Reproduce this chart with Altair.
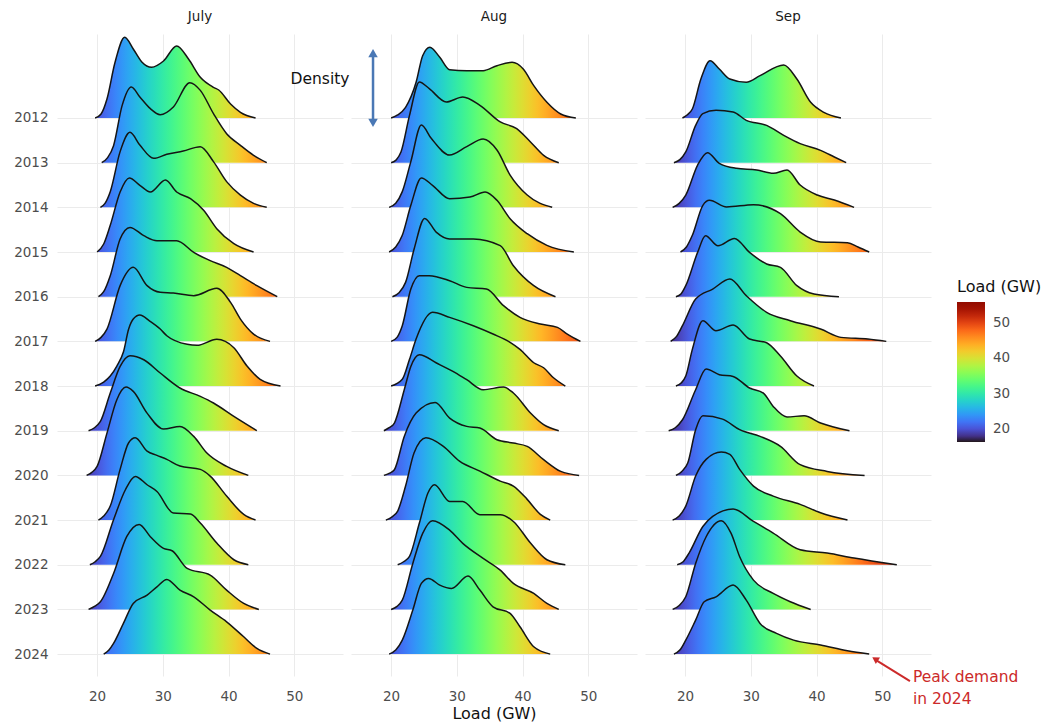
import altair as alt
import pandas as pd

# ---------------- data ----------------
YEARS = list(range(2012, 2025))
MONTHS = ["July", "Aug", "Sep"]
X_TICKS = [20, 30, 40, 50]
LEGEND_TICKS = [20, 30, 40, 50]
LOAD_RANGE = [16.3, 56.0]          # colour scale range (GW)

# (load GW, density height) pairs, density in arbitrary units
jul_2012 = [(19.7,0),(20.6,4),(21.5,19),(22.7,55),(24.2,80.7),(25.5,69),(26.8,56),(28.3,50.7),(30.1,57),(32.1,72),(33.9,59),(35.7,40.7),(37.7,30.7),(38.5,28),(40.3,14),(41.8,5.7),(44.1,0)]
jul_2013 = [(20.7,0),(21.6,5),(22.5,17),(23.8,57),(25.2,75.7),(26.5,65.7),(28.1,54),(29.6,48),(31.6,55.7),(34.1,80),(35.7,72.3),(37.7,49),(39.7,29),(41.8,17.3),(43.8,7.3),(45.8,0)]
jul_2014 = [(20.5,0),(21.2,4),(22.0,15.7),(23.5,55.7),(25.0,75),(26.5,62.3),(28.6,49),(30.6,53),(33.1,56.3),(35.7,60.7),(37.7,45.7),(39.7,25.7),(41.8,12.3),(43.8,4),(45.8,0)]
jul_2015 = [(20.0,0),(21.0,8),(22.0,26.7),(23.5,60),(24.9,74),(26.5,66.7),(28.1,60),(30.4,72),(32.1,60),(34.2,53.3),(36.2,41.7),(38.2,23.3),(40.8,8.3),(43.8,0)]
jul_2016 = [(20.2,0),(21.0,5),(22.0,21),(23.5,57.7),(25.0,69.3),(27.1,61),(29.1,56),(32.1,56),(34.7,44.3),(37.2,36),(39.7,29.3),(41.8,21),(44.3,11),(47.4,0)]
jul_2017 = [(19.7,0),(20.6,4),(21.5,12.3),(23.5,55.7),(25.5,74),(27.6,55.7),(29.6,49),(31.6,48.3),(34.7,45.7),(38.2,53),(40.3,39),(41.8,22.3),(43.8,7.3),(46.3,0)]
jul_2018 = [(19.7,0),(21.0,4),(22.0,10),(23.0,20),(24.0,34),(24.8,57),(25.5,67),(26.5,71),(28.0,65),(29.6,57),(30.6,50.3),(33.7,41.7),(35.2,40.7),(38.2,46.7),(40.8,38.3),(42.8,20),(44.8,6.7),(47.9,0)]
jul_2019 = [(18.7,0),(19.6,3),(20.5,9.3),(22.0,37.7),(23.5,64.3),(25.0,75),(27.1,71),(29.6,57.7),(32.6,42.7),(35.7,34.3),(37.7,27.7),(40.8,14.3),(44.3,0)]
jul_2020 = [(18.4,0),(19.2,3),(20.0,9),(21.5,42.3),(23.0,75.7),(24.4,88.3),(25.5,84),(27.6,62.3),(30.1,46.3),(32.6,49),(34.7,39),(36.7,22.3),(39.7,9),(43.0,0)]
jul_2021 = [(20.2,0),(21.0,4),(22.0,14),(23.5,50.7),(24.8,77.3),(25.8,82.3),(27.6,69),(29.1,64.7),(30.6,60.7),(32.6,54),(35.7,50.7),(37.2,44),(39.7,24),(42.3,5.7),(44.1,0)]
jul_2022 = [(18.9,0),(19.7,3),(20.5,8.3),(22.5,45),(24.3,75),(25.8,88.3),(27.6,80),(29.1,73.3),(31.6,51.7),(34.2,50.7),(35.7,41.7),(38.2,21.7),(40.8,5),(43.0,0)]
jul_2023 = [(18.7,0),(19.6,3),(20.5,7.7),(22.5,36),(24.5,72.7),(26.4,85),(28.1,72.7),(30.1,61),(31.4,58.7),(33.7,41),(37.2,34.3),(39.7,19.3),(42.3,6),(44.6,0)]
jul_2024 = [(21.0,0),(21.8,4),(22.5,10.7),(24.0,30.7),(25.5,50.7),(27.6,59),(29.1,67.3),(30.6,74.7),(32.6,64),(34.7,57.3),(37.2,44),(39.7,32.3),(42.3,17.3),(44.3,5.7),(46.3,0)]

aug_2012 = [(20.0,0),(21.0,3),(22.2,10.7),(23.8,35.7),(24.8,62.3),(25.9,70.7),(27.4,60.7),(28.9,48.3),(31.5,47.3),(34.0,47.3),(36.1,52.3),(38.4,55.7),(40.1,49),(41.7,32.3),(43.7,15.7),(45.8,4),(48.1,0)]
aug_2013 = [(20.0,0),(20.8,3),(21.5,10.7),(22.8,47.3),(24.3,80.7),(25.8,74),(28.4,60.7),(30.9,65.7),(33.5,57.3),(36.6,40.7),(39.1,34),(41.2,20.7),(43.2,7.3),(45.5,0)]
aug_2014 = [(19.7,0),(20.7,4),(21.7,15.7),(23.0,45.7),(24.6,82.3),(26.1,69),(28.9,52.3),(31.5,60.7),(34.0,68.3),(36.1,57.3),(38.1,32.3),(40.7,12.3),(44.5,0)]
aug_2015 = [(19.7,0),(20.7,5),(21.7,16.7),(23.0,46.7),(24.6,74),(26.3,66.7),(28.9,53.3),(32.0,55),(34.3,60),(36.1,51.7),(38.1,33.3),(40.7,18.3),(43.7,6.7),(47.8,0)]
aug_2016 = [(20.2,0),(21.2,4),(22.2,14.3),(23.5,47.7),(25.1,78.3),(26.9,64.3),(28.9,57.7),(32.5,57.7),(36.6,51),(38.6,31),(41.7,11),(45.0,0)]
aug_2017 = [(20.0,0),(20.9,4),(21.7,15.7),(23.0,52.3),(24.3,65.7),(25.8,65.7),(28.9,60.7),(31.5,54),(34.5,52.3),(37.1,35.7),(39.6,24),(42.7,17.3),(45.3,14),(46.8,7.3),(48.8,0)]
aug_2018 = [(20.0,0),(21.7,6.7),(22.8,26.7),(23.8,47),(26.3,73.7),(28.9,68.7),(32.5,60.3),(35.5,52),(38.1,43.7),(39.6,36.7),(41.7,23.3),(43.2,18.3),(44.7,8.3),(46.5,0)]
aug_2019 = [(18.9,0),(19.7,3),(20.5,7.7),(22.0,41),(23.0,64.3),(24.3,76),(26.9,67.7),(29.4,59.3),(31.5,51),(34.0,41),(37.1,43.7),(38.6,37.7),(41.2,17.7),(43.2,6),(45.5,0)]
aug_2020 = [(18.9,0),(19.7,2),(20.5,5.7),(22.0,39),(23.8,62.3),(26.7,73),(28.9,57.3),(31.5,49),(33.5,47.3),(36.1,35.7),(38.6,32.3),(40.7,29),(43.2,15.7),(45.8,4),(48.6,0)]
aug_2021 = [(19.2,0),(20.1,3),(21.0,9),(22.2,34),(23.5,67.3),(25.3,82.3),(27.9,74),(30.4,59),(33.5,49),(36.6,39),(38.6,34),(40.7,20.7),(42.7,5.7),(44.2,0)]
aug_2022 = [(21.0,0),(21.9,3),(22.8,8.3),(24.3,41.7),(25.6,71.7),(26.6,80),(28.9,63.3),(30.9,63.3),(33.5,50),(36.6,50),(38.6,43.3),(41.2,21.7),(43.7,5),(46.5,0)]
aug_2023 = [(20.0,0),(20.9,3),(21.7,9.3),(23.3,46),(24.8,76),(26.3,88.7),(28.9,79.3),(30.9,66),(34.0,51),(36.6,39.3),(38.6,26),(41.7,16),(43.7,6),(45.5,0)]
aug_2024 = [(19.7,0),(20.7,4),(21.7,14),(23.3,44),(24.6,70.7),(25.7,75.7),(27.4,69),(29.2,65.7),(31.7,78),(33.5,64),(35.5,47.3),(38.1,40.7),(39.6,27.3),(41.7,7.3),(44.2,0)]

sep_2012 = [(19.6,0),(20.3,3),(21.1,9),(22.4,39),(23.8,57.3),(25.2,49),(26.8,39),(29.3,35.7),(31.4,42.3),(35.0,53),(37.0,39),(39.1,15.7),(41.1,5.7),(43.7,0)]
sep_2013 = [(18.3,0),(19.2,3),(20.1,10.7),(21.6,37.3),(22.7,49),(24.7,52.3),(27.3,50.7),(29.3,42.3),(32.4,37.3),(35.0,27.3),(37.5,19),(40.6,12.3),(42.7,5.7),(44.5,0)]
sep_2014 = [(18.1,0),(19.1,4),(20.1,12.3),(21.9,42.3),(23.4,54.7),(25.2,44),(27.8,39),(30.9,37.3),(33.4,34),(35.5,37.3),(37.5,22.3),(40.1,12.3),(42.7,7.3),(45.7,0)]
sep_2015 = [(19.3,0),(20.2,5),(21.1,16.7),(22.7,46.7),(23.7,51.7),(26.3,45),(30.4,47.3),(34.5,38.3),(37.5,20),(40.6,10),(44.7,9.3),(46.3,5),(48.0,0)]
sep_2016 = [(18.6,0),(19.4,3),(20.1,11),(21.9,44.3),(23.1,61),(25.0,51),(27.5,58.3),(29.8,44.3),(32.4,32.7),(34.5,29.3),(37.0,11),(39.6,2.7),(43.4,0)]
sep_2017 = [(17.8,0),(18.7,5),(19.6,15.7),(21.6,42.3),(24.2,52.3),(26.8,62.3),(29.3,45.7),(32.4,29),(36.0,20.7),(40.6,12.3),(43.7,4),(47.8,2.3),(50.6,0)]
sep_2018 = [(18.6,0),(19.4,3),(20.1,10),(21.1,36.7),(22.7,65.3),(24.7,55.3),(27.3,61),(29.8,47),(32.4,43.3),(34.5,30),(37.0,10),(39.6,0)]
sep_2019 = [(17.5,0),(18.5,3),(19.6,11),(21.6,41),(23.2,61.7),(25.2,56),(27.3,54.3),(29.8,42.7),(31.9,37.7),(33.4,24.3),(35.5,13.7),(38.1,15),(40.6,7.7),(45.0,0)]
sep_2020 = [(18.6,0),(19.5,4),(20.4,12.3),(21.6,45.7),(22.7,59.7),(25.7,56.3),(28.3,45.7),(31.4,39),(34.5,29),(37.5,10.7),(41.6,4),(47.3,0)]
sep_2021 = [(18.1,0),(19.1,4),(20.1,14),(21.6,44),(23.2,60.7),(25.5,68),(26.8,65.7),(28.3,50.7),(30.4,34),(33.4,24),(37.5,15.7),(40.6,7.3),(44.7,0)]
sep_2022 = [(18.8,0),(19.7,3),(20.6,11.7),(22.7,38.3),(24.2,48.3),(27.3,55.7),(30.4,43.3),(33.4,31.7),(37.5,15),(41.6,11.7),(45.7,6.7),(52.2,0)]
sep_2023 = [(18.1,0),(19.1,4),(20.1,12.7),(21.6,46),(23.2,72.7),(25.5,88.7),(27.0,76),(28.3,52.7),(30.4,29.3),(33.4,16),(36.0,7.7),(39.1,0)]
sep_2024 = [(18.3,0),(19.2,4),(20.1,14),(21.6,34),(22.9,52.3),(24.7,57.3),(27.3,69),(29.3,54),(31.4,30.7),(33.9,20.7),(36.5,14),(40.6,9),(44.7,3.3),(48.0,0)]

RIDGES = {
    "July": [jul_2012, jul_2013, jul_2014, jul_2015, jul_2016, jul_2017, jul_2018,
             jul_2019, jul_2020, jul_2021, jul_2022, jul_2023, jul_2024],
    "Aug": [aug_2012, aug_2013, aug_2014, aug_2015, aug_2016, aug_2017, aug_2018,
            aug_2019, aug_2020, aug_2021, aug_2022, aug_2023, aug_2024],
    "Sep": [sep_2012, sep_2013, sep_2014, sep_2015, sep_2016, sep_2017, sep_2018,
            sep_2019, sep_2020, sep_2021, sep_2022, sep_2023, sep_2024],
}

# annotation texts
DENSITY_LABEL = "Density"
PEAK_LINES = ["Peak demand", "in 2024"]

# ---------------- layout / style ----------------
X_DOMAIN = [13.9, 57.4]
Y_DOMAIN = [-0.49, 13.88]
ROW_UNITS = 44.67          # density units per ridge row
PANEL_W, PANEL_H = 286, 642
GRID = "#ebebeb"
LABEL_GREY = "#4d4d4d"
FONT = "DejaVu Sans"


def turbo_hex(t):
    t = min(max(t, 0.0), 1.0)
    r = 0.13572138 + t*(4.61539260 + t*(-42.66032258 + t*(132.13108234 + t*(-152.94239396 + t*59.28637943))))
    g = 0.09140261 + t*(2.19418839 + t*(4.84296658 + t*(-14.18503333 + t*(4.27729857 + t*2.82956604))))
    b = 0.10667330 + t*(12.64194608 + t*(-60.58204836 + t*(110.36276771 + t*(-89.90310912 + t*27.34824973))))
    c = [max(0, min(255, int(round(v * 255)))) for v in (r, g, b)]
    return "#%02x%02x%02x" % tuple(c)


def gradient_for(pts):
    lo, hi = pts[0][0], pts[-1][0]
    n = 24
    stops = []
    for i in range(n + 1):
        v = lo + (hi - lo) * i / n
        t = (v - LOAD_RANGE[0]) / (LOAD_RANGE[1] - LOAD_RANGE[0])
        stops.append(alt.GradientStop(offset=i / n, color=turbo_hex(t)))
    return alt.Gradient(gradient="linear", stops=stops, x1=0, x2=1, y1=0, y2=0)


def build_df(ridges):
    rows = []
    for yr, pts in zip(YEARS, ridges):
        base = 2024 - yr
        for load, d in pts:
            rows.append({"year": yr, "load": load, "base": base, "top": base + d / ROW_UNITS})
    return pd.DataFrame(rows)


def panel(month, idx):
    ridges = RIDGES[month]
    df = build_df(ridges)
    xaxis = alt.Axis(values=X_TICKS, grid=True, ticks=False, domain=False, gridColor=GRID,
                     labelColor=LABEL_GREY, labelFontSize=13.5, labelPadding=13,
                     title="Load (GW)" if idx == 1 else None, titleFontSize=16,
                     titleFontWeight="normal", titleColor="#111111", titlePadding=3)
    if idx == 0:
        yaxis = alt.Axis(values=list(range(13)), labelExpr="'' + (2024 - datum.value)",
                         grid=True, ticks=False, domain=False, gridColor=GRID,
                         labelColor=LABEL_GREY, labelFontSize=13.5, labelPadding=9, title=None)
    else:
        yaxis = alt.Axis(values=list(range(13)), labels=False, grid=True, ticks=False,
                         domain=False, gridColor=GRID, title=None)
    x = alt.X("load:Q", scale=alt.Scale(domain=X_DOMAIN, nice=False, zero=False), axis=xaxis)
    y = alt.Y("top:Q", scale=alt.Scale(domain=Y_DOMAIN, nice=False, zero=False), axis=yaxis)

    layers = []
    for yr, pts in zip(YEARS, ridges):
        f = alt.datum.year == yr
        layers.append(alt.Chart().mark_area(color=gradient_for(pts), interpolate="monotone")
                      .encode(x=x, y=y, y2="base:Q").transform_filter(f))
        layers.append(alt.Chart().mark_line(color="#151515", strokeWidth=1.5, interpolate="monotone")
                      .encode(x=x, y=y).transform_filter(f))

    if month == "July":
        ann = pd.DataFrame([{"load": 53.9, "top": 12.87, "label": DENSITY_LABEL}])
        layers.append(alt.Chart(ann).mark_text(fontSize=15.5, color="#111111", align="center",
                                               baseline="middle").encode(x=x, y=y, text="label:N"))
    if month == "Aug":
        shaft = pd.DataFrame([{"load": 17.25, "top": 13.43, "top2": 11.91}])
        heads = pd.DataFrame([{"load": 17.25, "top": 13.45, "ang": 0},
                              {"load": 17.25, "top": 11.89, "ang": 180}])
        layers.append(alt.Chart(shaft).mark_rule(color="#4a78b5", strokeWidth=2.5)
                      .encode(x=x, y=y, y2="top2:Q"))
        layers.append(alt.Chart(heads).mark_point(shape="triangle-up", filled=True, size=90,
                                                  color="#4a78b5", opacity=1)
                      .encode(x=x, y=y, angle=alt.Angle("ang:Q", scale=None)))
    if month == "Sep":
        txt = pd.DataFrame([{"load": 54.66, "top": -0.514, "label": PEAK_LINES[0]},
                            {"load": 54.66, "top": -1.007, "label": PEAK_LINES[1]}])
        rule = pd.DataFrame([{"load": 54.2, "top": -0.604, "load2": 49.1, "top2": -0.14}])
        head = pd.DataFrame([{"load": 48.9, "top": -0.11, "ang": 303}])
        layers.append(alt.Chart(txt).mark_text(fontSize=15.5, color="#cc2a2a", align="left",
                                               baseline="middle").encode(x=x, y=y, text="label:N"))
        layers.append(alt.Chart(rule).mark_rule(color="#cc2a2a", strokeWidth=2)
                      .encode(x=x, y=y, x2="load2:Q", y2="top2:Q"))
        layers.append(alt.Chart(head).mark_point(shape="triangle-up", filled=True, size=60,
                                                 color="#cc2a2a", opacity=1)
                      .encode(x=x, y=y, angle=alt.Angle("ang:Q", scale=None)))
        legend = alt.Legend(title="Load (GW)", values=LEGEND_TICKS, orient="none",
                            legendX=312, legendY=245, direction="vertical",
                            gradientLength=140, gradientThickness=28, gradientStrokeWidth=0,
                            titleFontSize=16, titleFontWeight="normal", titleColor="#111111",
                            titlePadding=7, labelFontSize=13.5, labelColor=LABEL_GREY,
                            labelOffset=8, labelOverlap=False)
        layers.append(alt.Chart().mark_point(size=0, filled=True, opacity=1, strokeWidth=0)
                      .encode(x=x, y=y,
                              color=alt.Color("load:Q", scale=alt.Scale(scheme="turbo", domain=LOAD_RANGE),
                                              legend=legend)))

    return alt.layer(*layers, data=df).properties(
        width=PANEL_W, height=PANEL_H,
        title=alt.TitleParams(month, fontSize=13.5, fontWeight="normal", color="#1a1a1a",
                              anchor="middle", offset=11))


chart = (
    alt.hconcat(panel("July", 0), panel("Aug", 1), panel("Sep", 2), spacing=8, bounds="flush")
    .resolve_scale(color="independent")
    .properties(padding={"left": 5, "top": 1, "right": 5, "bottom": 0})
    .configure(font=FONT)
    .configure_view(stroke=None)
)

chart.save("out.html", embed_options={"renderer": "svg", "actions": False})
